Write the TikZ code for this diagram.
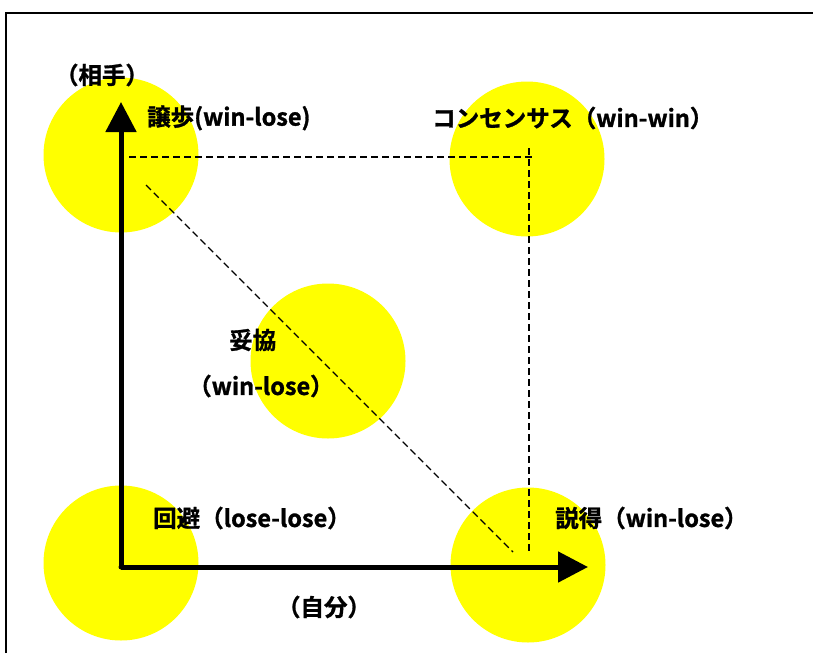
\documentclass[tikz,border=0pt]{standalone}
\usepackage{fontspec}
\setmainfont{Noto Sans CJK JP}[BoldFont={* Bold}, BoldFeatures={FakeBold=1.2}]
\usetikzlibrary{arrows.meta}
\definecolor{spotyellow}{RGB}{255,255,0}

\begin{document}
\begin{tikzpicture}[x=1pt, y=-1pt,
  spot/.style={circle, fill=spotyellow, minimum size=155pt, inner sep=0pt},
  axis/.style={line width=5pt, -{Triangle[length=30pt, width=30pt]}},
  guide/.style={dashed, dash pattern=on 7pt off 4pt, line width=1.2pt},
  lbl/.style={font=\fontsize{23.5}{26}\selectfont\bfseries, inner sep=0pt}]
  \useasboundingbox (0,0) rectangle (813,653);
  % frame (only top and left edges show)
  \draw[line width=2pt] (6,653) -- (6,12.5) -- (813,12.5);
  % yellow spots
  \node[spot] (jouho)     at (121,155) {};
  \node[spot] (consensus) at (527,159) {};
  \node[spot] (dakyou)    at (328,361) {};
  \node[spot] (kaihi)     at (121,563) {};
  \node[spot] (settoku)   at (528,565) {};
  % guide points
  \coordinate (hA) at (129,157);
  \coordinate (hB) at (533,157);
  \coordinate (vA) at (529,148);
  \coordinate (vB) at (529,552);
  \coordinate (dA) at (146,185);
  \coordinate (dB) at (513,552);
  \draw[guide] (hA) -- (hB);
  \draw[guide] (vA) -- (vB);
  \draw[guide] (dA) -- (dB);
  % axes
  \coordinate (origin) at (121,567);
  \coordinate (yend) at (121,102);
  \coordinate (xend) at (588,567);
  \fill (origin) circle (2.5pt);
  \draw[axis] (origin) -- (yend);
  \draw[axis] (origin) -- (xend);
  % labels
  \node[lbl] (aite)  at (102,75) {（相手）};
  \node[lbl] (jibun) at (324,607) {（自分）};
  \node[lbl, anchor=west] (tJouho) at (147,118) {譲歩(win-lose)};
  \node[lbl, anchor=west] (tCons)  at (432,118) {コンセンサス（win-win）};
  \node[lbl, anchor=west] (tDak1)  at (229,340) {妥協};
  \node[lbl, anchor=west] (tDak2)  at (188,386) {（win-lose）};
  \node[lbl, anchor=west] (tKaihi) at (153,518) {回避（lose-lose）};
  \node[lbl, anchor=west] (tSett)  at (555,518) {説得（win-lose）};
\end{tikzpicture}
\end{document}
